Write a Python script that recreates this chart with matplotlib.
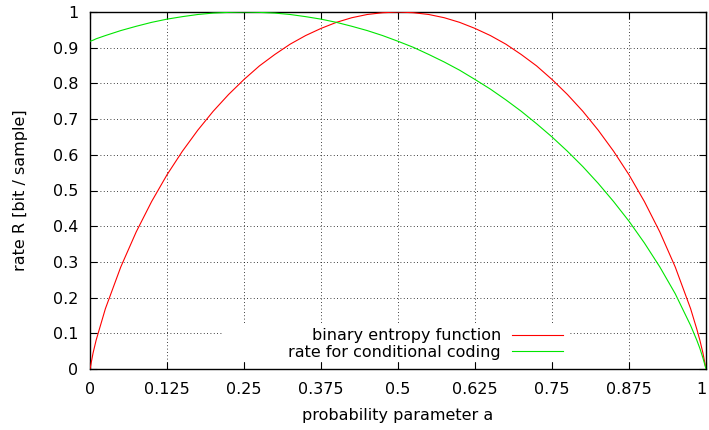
import matplotlib
matplotlib.use("Agg")
import matplotlib.pyplot as plt
from matplotlib.patches import Rectangle

# probability parameter a (sample positions)
a_vals = [0, 0.005, 0.01, 0.025, 0.05, 0.075, 0.1, 0.125, 0.15, 0.175, 0.2, 0.225,
          0.25, 0.275, 0.3, 0.325, 0.35, 0.375, 0.4, 0.425, 0.45, 0.475, 0.5,
          0.525, 0.55, 0.575, 0.6, 0.625, 0.65, 0.675, 0.7, 0.725, 0.75, 0.775,
          0.8, 0.825, 0.85, 0.875, 0.9, 0.925, 0.95, 0.975, 0.985, 0.99, 0.995, 1]

# binary entropy function (red)
entropy = [0, 0.045, 0.081, 0.169, 0.286, 0.384, 0.469, 0.544, 0.610, 0.669, 0.722, 0.769,
           0.811, 0.849, 0.881, 0.910, 0.934, 0.954, 0.971, 0.984, 0.993, 0.998, 1.0,
           0.998, 0.993, 0.984, 0.971, 0.954, 0.934, 0.910, 0.881, 0.849, 0.811, 0.769,
           0.722, 0.669, 0.610, 0.544, 0.469, 0.384, 0.286, 0.169, 0.112, 0.081, 0.045, 0]

# rate for conditional coding (green)
cond_rate = [0.918, 0.921, 0.925, 0.934, 0.948, 0.960, 0.971, 0.980, 0.987, 0.993, 0.997, 0.999,
             1.0, 0.999, 0.997, 0.993, 0.987, 0.980, 0.971, 0.960, 0.948, 0.934, 0.918,
             0.901, 0.881, 0.860, 0.837, 0.811, 0.784, 0.754, 0.722, 0.687, 0.650, 0.610,
             0.567, 0.520, 0.469, 0.414, 0.353, 0.286, 0.211, 0.122, 0.081, 0.058, 0.031, 0]

x_ticks = [0, 0.125, 0.25, 0.375, 0.5, 0.625, 0.75, 0.875, 1]
x_labels = ["0", "0.125", "0.25", "0.375", "0.5", "0.625", "0.75", "0.875", "1"]
y_ticks = [0, 0.1, 0.2, 0.3, 0.4, 0.5, 0.6, 0.7, 0.8, 0.9, 1]
y_labels = ["0", "0.1", "0.2", "0.3", "0.4", "0.5", "0.6", "0.7", "0.8", "0.9", "1"]

plt.rcParams["font.family"] = "DejaVu Sans"
plt.rcParams["font.size"] = 11.5

fig = plt.figure(figsize=(7.09, 4.30), dpi=100)
ax = fig.add_axes([90 / 709, 61 / 430, 616 / 709, 357 / 430])

ax.plot(a_vals, entropy, color="#ff0000", lw=0.8, label="binary entropy function", zorder=3)
ax.plot(a_vals, cond_rate, color="#00e600", lw=0.8, label="rate for conditional coding", zorder=3)

ax.set_xlim(0, 1)
ax.set_ylim(0, 1)
ax.set_xticks(x_ticks)
ax.set_xticklabels(x_labels)
ax.set_yticks(y_ticks)
ax.set_yticklabels(y_labels)
ax.tick_params(direction="in", top=True, right=True, length=5, width=0.8)
ax.tick_params(axis="x", pad=9.5)
ax.tick_params(axis="y", pad=8.5)
ax.grid(True, color="black", linestyle=(0, (1, 3)), lw=0.6)
for s in ax.spines.values():
    s.set_linewidth(1.0)

# last label sits on the image edge, keep it inside
ax.get_xticklabels()[-1].set_ha("right")

ax.set_xlabel("probability parameter a", labelpad=8)
ax.set_ylabel("rate R [bit / sample]", labelpad=18)

# white key box like gnuplot
ax.add_patch(Rectangle((0.214, 0.02), 0.565, 0.105, transform=ax.transAxes,
                       facecolor="white", edgecolor="none", zorder=2))
leg = ax.legend(loc="lower right", bbox_to_anchor=(0.768, 0.025), frameon=False,
                markerfirst=False, handlelength=3.2, handletextpad=0.69,
                labelspacing=0.1, borderpad=0, borderaxespad=0)
for t in leg.get_texts():
    t.set_ha("right")

fig.savefig("out.png", dpi=100)
